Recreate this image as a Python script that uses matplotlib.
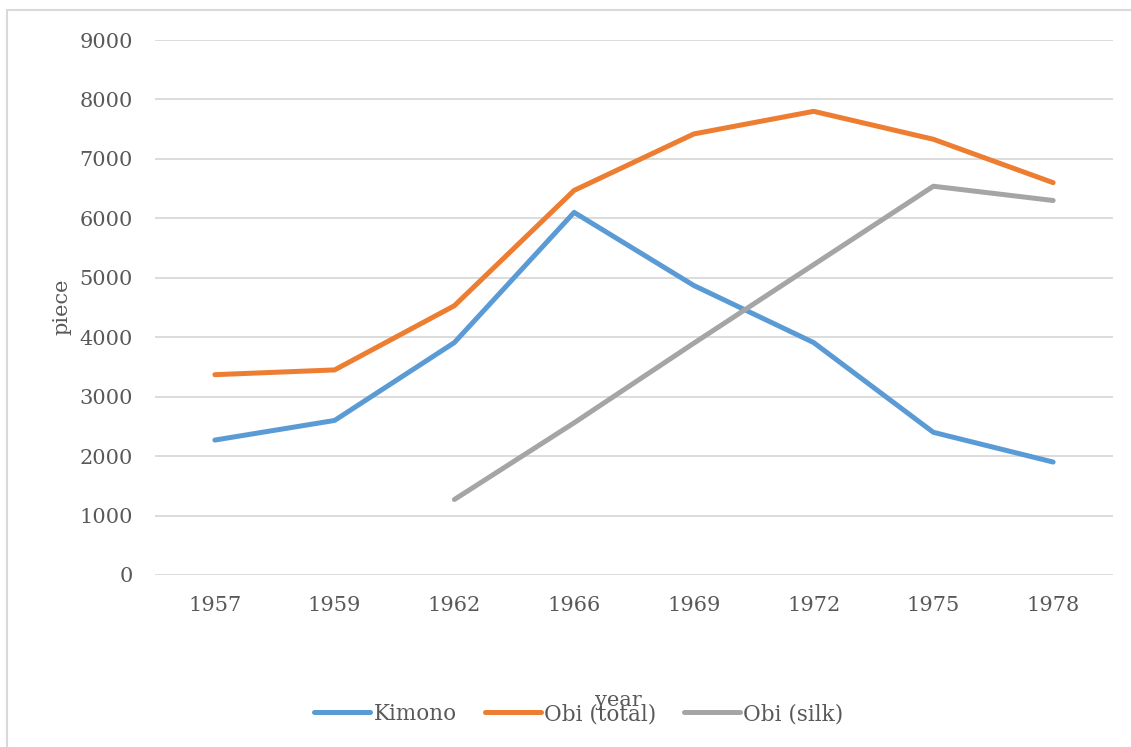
import matplotlib
matplotlib.use("Agg")
import matplotlib.pyplot as plt
from matplotlib.patches import Rectangle

years = ["1957", "1959", "1962", "1966", "1969", "1972", "1975", "1978"]
kimono = [2270, 2600, 3910, 6100, 4870, 3910, 2400, 1900]
obi_total = [3370, 3450, 4530, 6470, 7420, 7800, 7330, 6600]
obi_silk = [None, None, 1270, 2560, 3900, 5220, 6540, 6300]
yticks = [0, 1000, 2000, 3000, 4000, 5000, 6000, 7000, 8000, 9000]

W, H = 1131, 747
plt.rcParams['font.family'] = ['DejaVu Serif']
txt = '#595959'
fs = 15

fig = plt.figure(figsize=(W / 100, H / 100), dpi=100)
fig.patches.append(Rectangle((7 / W, -1), 2, 2 - 10 / H, transform=fig.transFigure,
                             fill=False, edgecolor='#d9d9d9', linewidth=1.5, zorder=0))

ax = fig.add_axes([155 / W, 1 - 575 / H, (1113 - 155) / W, (575 - 40) / H])
x = list(range(len(years)))

def seg(vals):
    xs = [i for i, v in zip(x, vals) if v is not None]
    ys = [v for v in vals if v is not None]
    return xs, ys

lw = 3.6
l1, = ax.plot(*seg(kimono), color='#5B9BD5', lw=lw, solid_capstyle='round', solid_joinstyle='round', label='Kimono')
l2, = ax.plot(*seg(obi_total), color='#ED7D31', lw=lw, solid_capstyle='round', solid_joinstyle='round', label='Obi (total)')
l3, = ax.plot(*seg(obi_silk), color='#A5A5A5', lw=lw, solid_capstyle='round', solid_joinstyle='round', label='Obi (silk)')

ax.set_xlim(-0.5, len(years) - 0.5)
ax.set_ylim(0, 9000)
ax.set_yticks(yticks)
ax.set_yticklabels([str(v) for v in yticks])
ax.set_xticks(x)
ax.set_xticklabels(years)
ax.tick_params(axis='both', length=0, colors=txt, labelsize=fs)
ax.tick_params(axis='y', pad=16)
ax.tick_params(axis='x', pad=15)
ax.grid(axis='y', color='#d9d9d9', linewidth=1.3)
ax.set_axisbelow(True)
for s in ax.spines.values():
    s.set_visible(False)

fig.text(62 / W, 1 - 307 / H, 'piece', rotation=90, ha='center', va='center', color=txt, fontsize=fs)
fig.text(618 / W, 1 - 700 / H, 'year', ha='center', va='center', color=txt, fontsize=fs)

leg = fig.legend(handles=[l1, l2, l3], loc='center', bbox_to_anchor=(579 / W, 1 - 714 / H),
                 ncol=3, frameon=False, fontsize=15.5, handlelength=2.6, handletextpad=0.15,
                 columnspacing=1.3, labelcolor=txt)

fig.savefig('out.png', dpi=100)
